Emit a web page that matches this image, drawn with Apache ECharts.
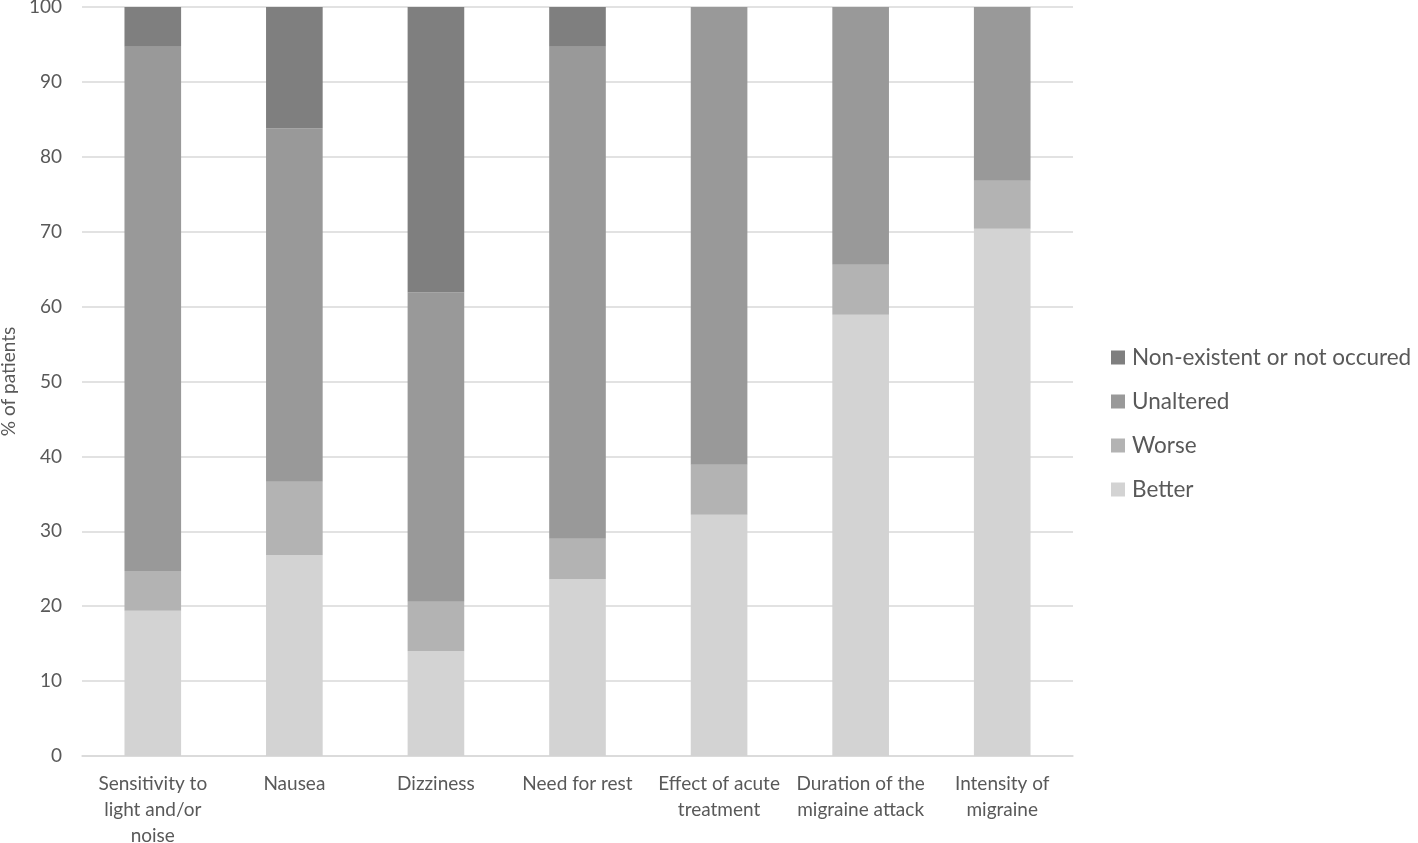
<!DOCTYPE html>
<html><head><meta charset="utf-8">
<script src="https://cdn.jsdelivr.net/npm/echarts@6/dist/echarts.min.js"></script>
<style>html,body{margin:0;padding:0;background:#fff}#c{width:1418px;height:843px}</style>
</head><body><div id="c"></div>
<script>
const categories = ['Sensitivity to\nlight and/or\nnoise', 'Nausea', 'Dizziness', 'Need for rest', 'Effect of acute\ntreatment', 'Duration of the\nmigraine attack', 'Intensity of\nmigraine'];
const better = [19.4, 26.8, 14.0, 23.6, 32.2, 58.9, 70.4];
const worse = [5.3, 9.8, 6.6, 5.4, 6.7, 6.7, 6.4];
const unaltered = [70.0, 47.2, 41.3, 65.7, 61.1, 34.4, 23.2];
const nonExistent = [5.3, 16.2, 38.1, 5.3, 0, 0, 0];
const yTicks = [0, 10, 20, 30, 40, 50, 60, 70, 80, 90, 100];

const font = 'Lato, "Open Sans", sans-serif';
const txt = '#595959';
const chart = echarts.init(document.getElementById('c'), null, {renderer: 'canvas'});
function s(name, data, color) {
  return {name, type: 'bar', stack: 'a', data, barWidth: '40%', itemStyle: {color}, emphasis: {disabled: true}};
}
chart.setOption({
  animation: false,
  grid: {left: 82, right: 345, top: 7, bottom: 87, containLabel: false, outerBoundsMode: 'none'},
  legend: {
    orient: 'vertical', left: 1106, top: 341, itemGap: 21, itemWidth: 14, itemHeight: 14,
    icon: 'rect',
    textStyle: {fontFamily: font, fontSize: 22.5, color: txt, padding: [0, 0, 0, 2]},
    data: ['Non-existent or not occured', 'Unaltered', 'Worse', 'Better']
  },
  xAxis: {
    type: 'category', data: categories,
    axisLine: {lineStyle: {color: '#d9d9d9', width: 1.5}},
    axisTick: {show: false},
    axisLabel: {fontFamily: font, fontSize: 19, color: txt, lineHeight: 26, margin: 15, interval: 0}
  },
  yAxis: {
    type: 'value', min: yTicks[0], max: yTicks[yTicks.length - 1], interval: 10,
    name: '% of patients', nameLocation: 'middle', nameGap: 61, nameRotate: 90,
    nameTextStyle: {fontFamily: font, fontSize: 19, color: txt},
    axisLine: {show: false}, axisTick: {show: false},
    axisLabel: {fontFamily: font, fontSize: 19, color: txt, margin: 20},
    splitLine: {lineStyle: {color: '#d9d9d9', width: 1.5}}
  },
  series: [
    s('Better', better, '#d3d3d3'),
    s('Worse', worse, '#b3b3b3'),
    s('Unaltered', unaltered, '#999999'),
    s('Non-existent or not occured', nonExistent, '#7f7f7f')
  ]
});
</script></body></html>
